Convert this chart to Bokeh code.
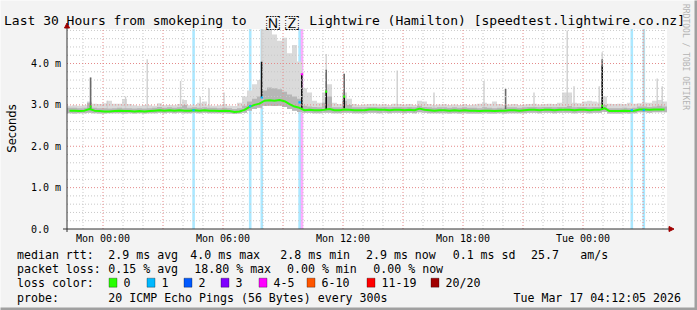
import numpy as np
from math import pi
from bokeh.plotting import figure
from bokeh.models import Range1d, Label, BoxAnnotation, Arrow, NormalHead
from bokeh.core.properties import value
from bokeh.embed import file_html
from bokeh.resources import INLINE

# ---------------- data ----------------
START_H = -1.8          # Sun 22:12, hours relative to Mon 00:00
END_H = 28.2            # Tue 04:12
STEP_H = 0.25           # 15 minute steps

median_rtt = [
    2.86, 2.86, 2.85, 2.86, 2.90, 2.86, 2.85, 2.84, 2.84, 2.85,
    2.86, 2.85, 2.85, 2.84, 2.85, 2.84, 2.85, 2.86, 2.87, 2.86,
    2.87, 2.86, 2.87, 2.86, 2.86, 2.87, 2.86, 2.87, 2.86, 2.86,
    2.85, 2.86, 2.85, 2.83, 2.84, 2.88, 2.95, 3.00, 3.03, 3.10,
    3.11, 3.10, 3.12, 3.09, 3.02, 2.96, 2.93, 2.87, 2.88, 2.87,
    2.87, 2.88, 2.90, 2.87, 2.87, 2.89, 2.88, 2.87, 2.87, 2.87,
    2.89, 2.89, 2.88, 2.88, 2.87, 2.88, 2.88, 2.87, 2.88, 2.87,
    2.91, 2.88, 2.87, 2.86, 2.87, 2.87, 2.86, 2.87, 2.86, 2.87,
    2.86, 2.86, 2.85, 2.86, 2.86, 2.85, 2.86, 2.86, 2.87, 2.87,
    2.86, 2.87, 2.88, 2.88, 2.87, 2.88, 2.88, 2.87, 2.88, 2.88,
    2.88, 2.87, 2.88, 2.88, 2.87, 2.88, 2.88, 2.92, 2.85, 2.85,
    2.85, 2.86, 2.85, 2.86, 2.89, 2.89, 2.88, 2.89, 2.89, 2.89,
]
smoke_min = [
    2.80, 2.79, 2.80, 2.80, 2.81, 2.80, 2.79, 2.79, 2.80, 2.80,
    2.80, 2.79, 2.80, 2.79, 2.80, 2.79, 2.80, 2.80, 2.81, 2.80,
    2.81, 2.80, 2.81, 2.80, 2.80, 2.81, 2.80, 2.81, 2.80, 2.80,
    2.80, 2.80, 2.79, 2.78, 2.79, 2.81, 2.86, 2.90, 2.93, 2.97,
    2.98, 2.97, 2.98, 2.95, 2.90, 2.86, 2.83, 2.81, 2.81, 2.80,
    2.80, 2.81, 2.81, 2.80, 2.80, 2.81, 2.81, 2.80, 2.80, 2.80,
    2.81, 2.81, 2.80, 2.81, 2.80, 2.81, 2.81, 2.80, 2.81, 2.80,
    2.82, 2.81, 2.80, 2.80, 2.80, 2.80, 2.79, 2.80, 2.79, 2.80,
    2.79, 2.79, 2.79, 2.80, 2.79, 2.79, 2.80, 2.79, 2.80, 2.80,
    2.80, 2.80, 2.81, 2.81, 2.80, 2.81, 2.81, 2.80, 2.81, 2.81,
    2.81, 2.80, 2.81, 2.81, 2.80, 2.81, 2.81, 2.83, 2.79, 2.79,
    2.79, 2.80, 2.79, 2.80, 2.82, 2.82, 2.81, 2.82, 2.82, 2.82,
]
smoke_core = [
    2.93, 2.93, 2.92, 2.93, 3.05, 2.93, 2.92, 2.92, 2.91, 2.92,
    2.93, 2.92, 2.92, 2.91, 2.92, 2.91, 2.92, 2.93, 2.95, 2.93,
    2.94, 2.93, 2.94, 3.00, 2.93, 2.94, 2.93, 2.94, 2.93, 2.93,
    2.92, 2.93, 2.92, 2.90, 2.92, 2.98, 3.08, 3.15, 3.20, 3.35,
    3.42, 3.40, 3.38, 3.32, 3.25, 3.20, 3.15, 2.98, 2.96, 2.95,
    2.94, 3.05, 3.20, 2.94, 2.94, 3.10, 3.00, 2.94, 2.94, 2.94,
    2.95, 2.95, 2.94, 2.95, 2.94, 2.95, 2.95, 2.94, 2.95, 2.94,
    2.98, 2.95, 2.94, 2.93, 2.94, 2.94, 2.93, 2.94, 2.93, 2.94,
    2.93, 2.93, 2.92, 2.94, 2.93, 2.92, 2.93, 2.93, 2.94, 2.94,
    2.93, 2.94, 2.95, 2.95, 2.94, 2.95, 2.95, 2.94, 2.95, 2.95,
    2.97, 2.94, 2.95, 2.95, 2.94, 2.95, 2.95, 3.00, 2.92, 2.92,
    2.92, 2.93, 2.92, 2.93, 2.96, 2.96, 2.95, 2.96, 2.98, 2.96,
]
smoke_max = [
    2.98, 2.99, 2.98, 2.99, 3.08, 3.03, 3.02, 3.04, 3.10, 3.03,
    3.03, 3.14, 3.02, 2.99, 2.98, 3.00, 2.99, 2.98, 3.04, 2.99,
    3.00, 2.99, 3.02, 3.12, 2.99, 3.00, 3.05, 3.08, 2.99, 2.98,
    2.99, 3.02, 2.98, 2.97, 3.05, 3.20, 3.35, 3.50, 3.60, 4.83,
    4.83, 4.70, 4.55, 4.62, 4.25, 4.45, 4.05, 3.40, 3.30, 3.10,
    3.05, 3.30, 3.50, 3.05, 3.02, 3.30, 3.15, 3.02, 3.00, 3.01,
    3.02, 3.03, 3.01, 3.02, 3.00, 3.03, 3.02, 3.01, 3.02, 3.00,
    3.10, 3.08, 3.02, 3.00, 3.01, 3.02, 3.00, 3.01, 3.00, 3.02,
    3.00, 3.01, 3.03, 3.05, 3.03, 3.08, 3.02, 3.00, 3.01, 3.02,
    3.00, 3.01, 3.02, 3.03, 3.01, 3.02, 3.03, 3.02, 3.05, 3.30,
    3.30, 3.05, 3.04, 3.08, 3.10, 3.08, 3.06, 3.20, 3.03, 3.02,
    3.03, 3.02, 3.05, 3.03, 3.04, 3.06, 3.05, 3.10, 3.12, 3.08,
]

# narrow single-step spikes
light_spike_hours = [-0.62, 0.21, 1.13, 2.21, 3.88, 4.86, 5.30, 6.05, 7.93,
                     11.16, 12.06, 14.71, 16.55, 19.05, 21.55, 23.21, 23.55,
                     24.81, 24.96, 27.04, 27.71, 27.96]
light_spike_tops = [3.66, 3.10, 3.20, 4.10, 3.58, 3.20, 3.40, 3.30, 4.83,
                    4.23, 3.75, 3.83, 3.30, 3.58, 3.30, 4.80, 3.45,
                    3.45, 4.27, 4.83, 3.64, 3.45]
dark_spike_hours = [-0.62, 11.16, 12.06, 20.13, 24.96]
dark_spike_lo = [2.90, 3.32, 3.20, 2.90, 3.95]
dark_spike_hi = [3.66, 3.85, 3.75, 3.39, 4.10]
black_spike_hours = [7.93, 9.94, 11.16, 12.06, 24.96]
black_spike_lo = [3.18, 2.90, 2.90, 2.92, 2.88]
black_spike_hi = [4.04, 3.74, 3.32, 3.20, 3.95]
median_peak_hours = [-0.62, 11.16, 12.06, 24.96]
median_peak_rtt = [2.96, 3.32, 3.20, 2.98]

# packet loss events (hour, lost pings of 20, median rtt at that step)
loss_hours = [4.53, 7.36, 7.94, 9.83, 9.95, 26.44, 27.04]
loss_counts = [1, 1, 1, 1, 4, 1, 1]
loss_rtt = [2.87, 2.97, 3.18, 3.06, 3.74, 2.87, 2.87]

loss_labels = ["0", "1", "2", "3", "4-5", "6-10", "11-19", "20/20"]
loss_upper = [0, 1, 2, 3, 5, 10, 19, 20]
loss_colors = ["#26ff00", "#00b8ff", "#0059ff", "#7e00ff", "#ff00ff",
               "#ff5500", "#ff0000", "#a00000"]

x_tick_hours = [0, 6, 12, 18, 24]
x_tick_labels = ["Mon 00:00", "Mon 06:00", "Mon 12:00", "Mon 18:00", "Tue 00:00"]
y_tick_values = [0, 1, 2, 3, 4]
y_tick_labels = ["0.0", "1.0 m", "2.0 m", "3.0 m", "4.0 m"]

title_parts = ["Last 30 Hours from smokeping to", "\U0001F1F3", "\U0001F1FF",
               "Lightwire (Hamilton) [speedtest.lightwire.co.nz]"]
rtt_stats = ["2.9 ms avg", "4.0 ms max", "2.8 ms min", "2.9 ms now", "0.1 ms sd", "25.7", "am/s"]
loss_stats = ["0.15 % avg", "18.80 % max", "0.00 % min", "0.00 % now"]
probe_text = "20 ICMP Echo Pings (56 Bytes) every 300s"
date_text = "Tue Mar 17 04:12:05 2026"

# ---------------- layout ----------------
W, H = 697, 310
X0, YB = 66, 228            # canvas pixel of plot-area left / bottom
Y_TOP = 4.834
PXH = 20.0                  # pixels per hour
PXV = 200.0 / Y_TOP         # pixels per ms
MONO = "DejaVu Sans Mono"
AXIS_C = "#303030"
ARROW_C = "#a00000"

def hx(X):   # canvas x pixel -> hours
    return START_H + (X - X0) / PXH

def vy(Y):   # canvas y pixel -> ms
    return (YB - Y) / PXV

p = figure(width=W, height=H, output_backend="svg", toolbar_location=None,
           x_range=Range1d(hx(-0.5), hx(W - 0.5)),
           y_range=Range1d(vy(H - 0.5), vy(-0.5)),
           x_axis_location=None, y_axis_location=None,
           min_border=0, min_border_left=0, min_border_right=0,
           min_border_top=0, min_border_bottom=0)
p.title.text = ""
p.xgrid.visible = False
p.ygrid.visible = False
p.background_fill_color = "#f3f3f3"
p.border_fill_color = "#f3f3f3"
p.outline_line_color = None

# plot area canvas
p.add_layout(BoxAnnotation(left=START_H, right=END_H, bottom=0, top=Y_TOP,
                           fill_color="white", fill_alpha=1, line_color=None,
                           level="image"))

def bucket(n):
    for i, u in enumerate(loss_upper):
        if n <= u:
            return i
    return len(loss_upper) - 1

loss_col = [loss_colors[bucket(n)] for n in loss_counts]

# loss background bands
p.vbar(x=loss_hours, width=0.13, bottom=0, top=Y_TOP, fill_color=loss_col,
       fill_alpha=0.33, line_color=None)

# smoke (step shaped)
n = len(median_rtt)
edges = START_H + STEP_H * np.arange(n + 1)
xs = np.repeat(edges, 2)[1:-1]

def stepped(v):
    return np.repeat(np.asarray(v, dtype=float), 2)

p.varea(x=xs, y1=stepped(smoke_min), y2=stepped(smoke_max), fill_color="#dadada")
p.vbar(x=light_spike_hours, width=0.07, bottom=2.9, top=light_spike_tops,
       fill_color="#cfcfcf", line_color=None)
p.varea(x=xs, y1=stepped(smoke_min), y2=stepped(smoke_core), fill_color="#b6b6b6")
p.vbar(x=dark_spike_hours, width=0.08, bottom=dark_spike_lo, top=dark_spike_hi,
       fill_color="#6a6a6a", line_color=None)
p.vbar(x=black_spike_hours, width=0.08, bottom=black_spike_lo, top=black_spike_hi,
       fill_color="#111111", line_color=None)

# grid (drawn over the smoke, rrdtool style)
minor_h = [h for h in range(-1, 29) if h % 3 != 0]
major_h = list(range(0, 28, 3))
minor_v = [round(0.2 * i, 1) for i in range(1, 25) if i % 5 != 0]
major_v = [1, 2, 3, 4]
GRID_MINOR = "#c8c8c8"
GRID_MAJOR = "#e48a8a"
p.segment(x0=minor_h, x1=minor_h, y0=0, y1=Y_TOP, line_color=GRID_MINOR,
          line_width=1, line_dash="1 2")
p.segment(x0=START_H, x1=END_H, y0=minor_v, y1=minor_v, line_color=GRID_MINOR,
          line_width=1, line_dash="1 2")
p.segment(x0=major_h, x1=major_h, y0=0, y1=Y_TOP, line_color=GRID_MAJOR,
          line_width=1, line_dash="1 2")
p.segment(x0=START_H, x1=END_H, y0=major_v, y1=major_v, line_color=GRID_MAJOR,
          line_width=1, line_dash="1 2")

# median line
centers = edges[:-1] + STEP_H / 2
p.line(x=centers, y=median_rtt, line_color=loss_colors[0], line_width=2)
p.rect(x=median_peak_hours, y=median_peak_rtt, width=0.1, height=0.05,
       fill_color=loss_colors[0], line_color=None)
p.rect(x=loss_hours, y=loss_rtt, width=0.12, height=0.05,
       fill_color=loss_col, line_color=None)

# axes with arrows
p.add_layout(Arrow(x_start=hx(62), y_start=0, x_end=hx(673), y_end=0,
                   line_color=AXIS_C, line_width=1,
                   end=NormalHead(size=5, fill_color=ARROW_C, line_color=ARROW_C)))
p.add_layout(Arrow(x_start=START_H, y_start=vy(231), x_end=START_H, y_end=vy(22),
                   line_color=AXIS_C, line_width=1,
                   end=NormalHead(size=5, fill_color=ARROW_C, line_color=ARROW_C)))

# tick labels
p.text(x=x_tick_hours, y=vy(237), text=x_tick_labels, text_font=value(MONO),
       text_font_size="10px", text_align="center", text_baseline="middle",
       text_color="black")
p.text(x=hx(30), y=y_tick_values, text=y_tick_labels,
       text_font=value(MONO), text_font_size="10px", text_align="left",
       text_baseline="middle", text_color="black")

# ---------------- texts ----------------
def label(X, Y, text, size="11.6px", font=MONO, color="black", align="left",
          baseline="middle", angle=0):
    p.add_layout(Label(x=hx(X), y=vy(Y), text=text, text_font=font,
                       text_font_size=size, text_color=color, text_align=align,
                       text_baseline=baseline, angle=angle))

label(11, 127.5, "Seconds", size="11.5px", font="DejaVu Sans", align="center",
      angle=pi / 2)
label(3, 19.5, title_parts[0], size="13px")
label(271.5, 20, title_parts[1], size="18px", align="center")
label(290.5, 20, title_parts[2], size="18px", align="center")
label(308.3, 19.5, title_parts[3], size="13px")
label(684, 3, "RRDTOOL / TOBI OETIKER", size="8px", color="#b4b4b4",
      angle=-pi / 2)

L1, L2, L3, L4 = 253.8, 268.3, 281.7, 296.7
label(16, L1, "median rtt:")
for X, t in zip([107.3, 189.3, 279.3, 365, 451.7, 530, 579.3], rtt_stats):
    label(X, L1, t)
label(16, L2, "packet loss:")
for X, t in zip([107.3, 193.3, 286, 372.3], loss_stats):
    label(X, L2, t)
label(16, L3, "loss color:")
box_x = [108, 146, 183, 220, 258, 306, 366, 430]
for bx, lab, col in zip(box_x, loss_labels, loss_colors):
    p.add_layout(BoxAnnotation(left=hx(bx), right=hx(bx + 8), top=vy(L3 - 4.5),
                               bottom=vy(L3 + 4.5), fill_color=col, fill_alpha=1,
                               line_color="black", line_width=1))
    label(bx + 14.5, L3, lab)
label(16, L4, "probe:")
label(107.3, L4, probe_text)
label(680, L4, date_text, align="right")

# frame shade (right / bottom)
p.add_layout(BoxAnnotation(left=hx(693.5), right=hx(697), top=vy(-1), bottom=vy(311),
                           fill_color="#a0a0a0", fill_alpha=1, line_color=None))
p.add_layout(BoxAnnotation(left=hx(-1), right=hx(697), top=vy(306.5), bottom=vy(311),
                           fill_color="#a0a0a0", fill_alpha=1, line_color=None))

open("out.html", "w").write(file_html(p, INLINE))
